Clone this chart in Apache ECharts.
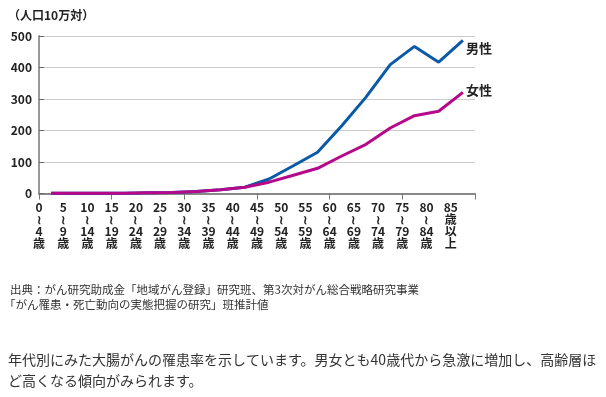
<!DOCTYPE html>
<html><head><meta charset="utf-8">
<script src="https://cdn.jsdelivr.net/npm/echarts@6/dist/echarts.min.js"></script>
<style>html,body{margin:0;padding:0;background:#fff}#c{width:606px;height:397px}</style>
</head><body><div id="c"></div>
<script>
const categories = ['0～4歳','5～9歳','10～14歳','15～19歳','20～24歳','25～29歳','30～34歳','35～39歳','40～44歳','45～49歳','50～54歳','55～59歳','60～64歳','65～69歳','70～74歳','75～79歳','80～84歳','85歳以上'];
const tickLabels = ['0\n≀\n4\n歳','5\n≀\n9\n歳','10\n≀\n14\n歳','15\n≀\n19\n歳','20\n≀\n24\n歳','25\n≀\n29\n歳','30\n≀\n34\n歳','35\n≀\n39\n歳','40\n≀\n44\n歳','45\n≀\n49\n歳','50\n≀\n54\n歳','55\n≀\n59\n歳','60\n≀\n64\n歳','65\n≀\n69\n歳','70\n≀\n74\n歳','75\n≀\n79\n歳','80\n≀\n84\n歳','85\n歳\n以\n上'];
const male = [1,1,1,1,2,3,6,12,20,46,88,131,215,306,409,467,417,486];
const female = [1,1,1,1,2,3,6,12,20,36,58,80,119,156,208,247,261,321];
const yTicks = [0,100,200,300,400,500];

const FONT = '"Noto Sans CJK JP","Noto Sans",sans-serif';
const chart = echarts.init(document.getElementById('c'), null, {renderer:'canvas'});
chart.setOption({
  animation:false,
  grid:{left:39,right:131,top:36,bottom:203.5,containLabel:false},
  xAxis:[{
    type:'category', data:categories, boundaryGap:true,
    axisLine:{lineStyle:{color:'#888',width:2}},
    axisTick:{show:true,length:6,lineStyle:{color:'#777',width:1}},
    axisLabel:{show:false}, splitLine:{show:false}
  },{
    type:'value', min:0, max:categories.length, interval:1, position:'bottom',
    axisLine:{show:false}, axisTick:{show:false}, splitLine:{show:false},
    axisLabel:{show:true, margin:8, fontFamily:FONT, fontSize:12, fontWeight:'bold', lineHeight:12, color:'#222',
      formatter:function(v){ return tickLabels[Math.round(v)] || ''; }}
  }],
  yAxis:{
    type:'value', min:yTicks[0], max:yTicks[yTicks.length-1], interval:100,
    axisLine:{show:true,lineStyle:{color:'#999',width:2}},
    axisTick:{show:true,inside:true,length:5,lineStyle:{color:'#666'}},
    splitLine:{show:true,lineStyle:{color:'#ccc',width:1}},
    axisLabel:{margin:7,fontFamily:FONT,fontSize:12,fontWeight:'bold',color:'#222'}
  },
  series:[{
    name:'男性', type:'line', data:male, xAxisIndex:0, showSymbol:false, symbol:'none',
    lineStyle:{color:'#0a5aa8',width:3}, itemStyle:{color:'#0a5aa8'},
    endLabel:{show:true,formatter:'男性',distance:3,offset:[0,8],fontFamily:FONT,fontSize:13,fontWeight:'bold',color:'#222'}
  },{
    name:'女性', type:'line', data:female, xAxisIndex:0, showSymbol:false, symbol:'none',
    lineStyle:{color:'#b5088a',width:3}, itemStyle:{color:'#b5088a'},
    endLabel:{show:true,formatter:'女性',distance:3,offset:[0,-2],fontFamily:FONT,fontSize:13,fontWeight:'bold',color:'#222'}
  }],
  graphic:[
    {type:'text',left:8,top:9,style:{text:'（人口10万対）',font:'bold 12px '+FONT,fill:'#222'}},
    {type:'text',left:10,top:284,style:{text:'出典：がん研究助成金「地域がん登録」研究班、第3次対がん総合戦略研究事業',font:'11.5px '+FONT,fill:'#333'}},
    {type:'text',left:4,top:299,style:{text:'「がん罹患・死亡動向の実態把握の研究」班推計値',font:'11.5px '+FONT,fill:'#333'}},
    {type:'text',left:8,top:353,style:{text:'年代別にみた大腸がんの罹患率を示しています。男女とも40歳代から急激に増加し、高齢層ほ',font:'14px '+FONT,fill:'#333'}},
    {type:'text',left:8,top:374,style:{text:'ど高くなる傾向がみられます。',font:'14px '+FONT,fill:'#333'}}
  ]
});
</script></body></html>
